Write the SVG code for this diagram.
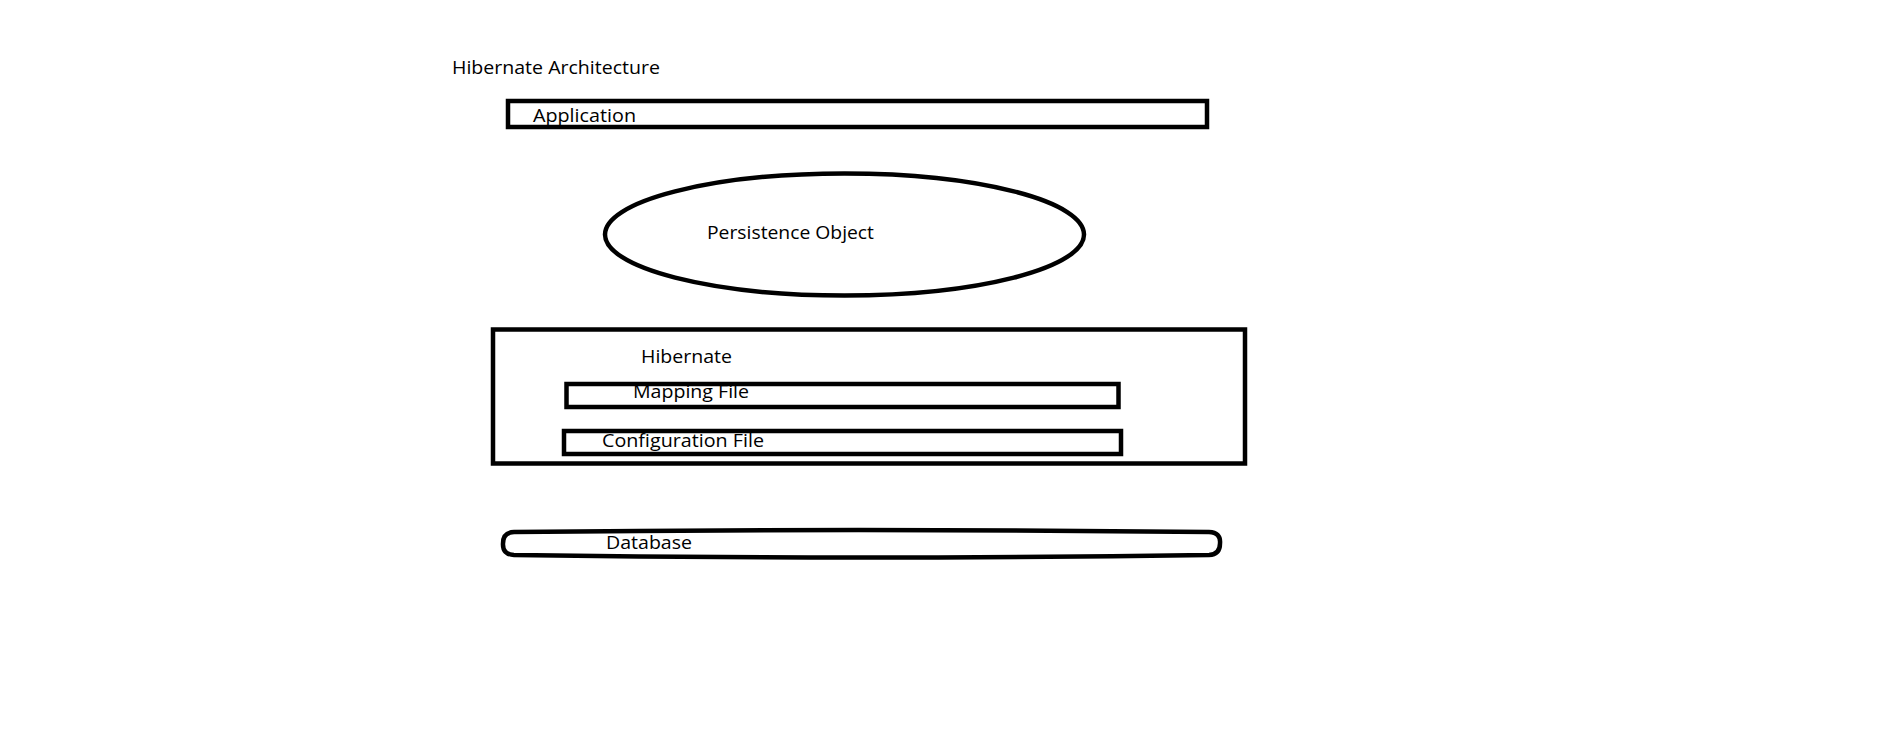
<svg xmlns="http://www.w3.org/2000/svg" width="1887" height="750" viewBox="0 0 1887 750">
<style>
.bg{fill:#ffffff}
.shape{fill:none;stroke:#000000;stroke-width:4.5}
.t{font-family:"Open Sans","Liberation Sans",sans-serif;font-size:18px;fill:#000000}
</style>
<rect class="bg" x="0" y="0" width="1887" height="750"/>
<g transform="translate(-4,-1.5)">
<text class="t" x="456" y="75" textLength="208" lengthAdjust="spacingAndGlyphs">Hibernate Architecture</text>
<g id="application">
<rect class="shape" x="512" y="102.5" width="699" height="26"/>
<text class="t" x="537" y="123" textLength="103" lengthAdjust="spacingAndGlyphs">Application</text>
</g>
<g id="persistence-object">
<ellipse class="shape" cx="848.5" cy="236" rx="239.5" ry="61"/>
<text class="t" x="711" y="240" textLength="167" lengthAdjust="spacingAndGlyphs">Persistence Object</text>
</g>
<g id="hibernate">
<rect class="shape" x="497" y="331" width="752" height="134"/>
<text class="t" x="645" y="364" textLength="91" lengthAdjust="spacingAndGlyphs">Hibernate</text>
</g>
<g id="mapping-file">
<rect class="shape" x="570.5" y="385.5" width="552" height="23"/>
<text class="t" x="637" y="399" textLength="116" lengthAdjust="spacingAndGlyphs">Mapping File</text>
</g>
<g id="configuration-file">
<rect class="shape" x="568" y="432.5" width="557" height="23"/>
<text class="t" x="606" y="448" textLength="162" lengthAdjust="spacingAndGlyphs">Configuration File</text>
</g>
<g id="database">
<path class="shape" d="M 518 533.5 Q 860 529.5 1213 533.5 Q 1225 534 1224 545 Q 1224 556 1213 556.5 Q 860 561.5 518 556.5 Q 506.5 556 507 545 Q 507 534 518 533.5 Z"/>
<text class="t" x="610" y="550" textLength="86" lengthAdjust="spacingAndGlyphs">Database</text>
</g>
<g id="connectors"></g>
</g>
</svg>
